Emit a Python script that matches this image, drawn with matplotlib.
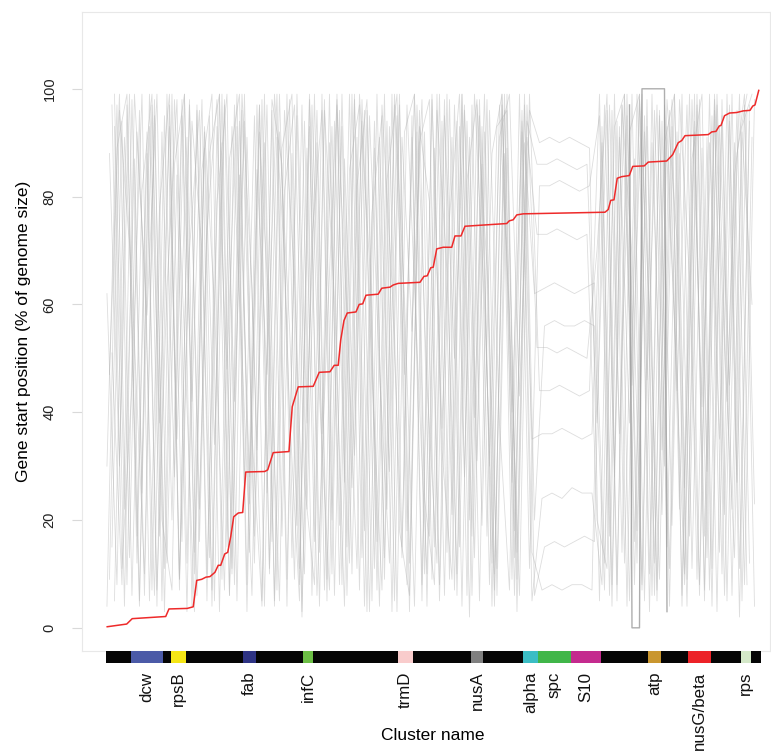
import numpy as np
import matplotlib
matplotlib.use('Agg')
import matplotlib.pyplot as plt

plt.rcParams['font.family'] = ['Liberation Sans', 'DejaVu Sans']

# genes along the reference chromosome
n_genes = 262

# clusters: name, first gene, last gene, colour
cluster_names = ['dcw', 'rpsB', 'fab', 'infC', 'trmD', 'nusA', 'alpha', 'spc', 'S10', 'atp', 'nusG/beta', 'rps']
cluster_start = [11, 27, 56, 80, 118, 147, 168, 174, 187, 218, 234, 255]
cluster_end = [23, 32, 60, 83, 123, 151, 173, 186, 198, 222, 242, 258]
cluster_cols = ['#4b5aa7', '#f5e616', '#2e3384', '#6cbe45', '#f9cccc', '#808080',
                '#3bbdc4', '#40b649', '#c42a8e', '#c9962f', '#ec2227', '#d4e8c8']

# reference genome (red) - gene index vs start position (% genome)
ref_x = [1.1, 8.9, 11.1, 24.5, 25.8, 33.1, 35.5, 36.9, 38.9, 40.6, 42.2, 44.2, 45.5, 46.5,
         48.1, 49.3, 50.5, 51.7, 53.5, 55.3, 56.5, 64.1, 65.3, 67.5, 73.8, 75.1, 77.5, 83.5,
         85.9, 90.2, 91.9, 93.5, 94.5, 95.8, 97.1, 100.6, 101.9, 103.3, 104.6, 109.5, 110.9,
         114.2, 115.5, 117.5, 126.2, 127.8, 129.1, 130.5, 131.5, 132.9, 135.5, 138.9, 140.2,
         142.6, 144.2, 147.5, 160.9, 161.9, 163.5, 164.9, 167.5, 200.2, 201.5, 202.5, 203.8,
         205.1, 206.9, 209.9, 211.3, 215.9, 217.5, 224.9, 227.3, 229.5, 230.9, 232.2, 241.5,
         242.9, 244.6, 245.9, 246.6, 248.0, 250.0, 252.9, 255.5, 258.2, 259.3, 260.2, 261.7]
ref_y = [0.2, 0.7, 1.7, 2.1, 3.5, 3.6, 3.9, 8.8, 9.0, 9.4, 9.5, 10.3, 11.6, 11.6,
         13.7, 14.0, 16.9, 20.6, 21.3, 21.4, 28.9, 29.0, 29.3, 32.5, 32.7, 41.0, 44.7, 44.8,
         47.4, 47.5, 48.7, 48.7, 53.4, 57.0, 58.4, 58.6, 60.0, 60.1, 61.7, 61.9, 63.0,
         63.2, 63.6, 63.9, 64.1, 65.2, 65.3, 66.8, 66.9, 70.3, 70.6, 70.6, 72.7,
         72.7, 74.5, 74.6, 75.0, 75.5, 75.7, 76.6, 76.8, 77.1, 77.6, 79.3, 79.4,
         83.4, 83.7, 83.9, 85.6, 85.7, 86.4, 86.6, 87.8, 90.0, 90.4, 91.3, 91.5,
         92.0, 92.1, 93.1, 93.2, 95.0, 95.5, 95.6, 95.9, 96.0, 96.8, 97.0, 99.7]

# other genomes (grey), sampled every 4th gene from a start gene
other_step = 4
other_start = [1, 3, 2, 4, 3, 1, 4, 2, 2, 4, 1, 3]
other_pos = [
    [62, 8, 97, 12, 88, 4, 99, 35, 91, 6,
     74, 98, 15, 93, 3, 85, 47, 99, 9, 95,
     22, 90, 5, 97, 58, 11, 96, 7, 83, 99,
     18, 92, 4, 96, 66, 10, 94, 31, 98, 6,
     89, 14, 97, 52, 52, 51, 52, 51, 50, 70,
     99, 8, 95, 12, 98, 5, 93, 44, 97, 9,
     91, 3, 99, 27, 96],
    [15, 94, 6, 81, 99, 20, 7, 95, 42, 98,
     4, 90, 11, 99, 63, 5, 96, 17, 88, 2,
     97, 36, 93, 8, 99, 13, 77, 95, 3, 91,
     55, 98, 9, 94, 21, 99, 6, 86, 12, 97,
     40, 92, 5, 24, 25, 24, 26, 25, 25, 8,
     96, 14, 99, 7, 90, 33, 98, 4, 87, 99,
     11, 95, 6, 92, 60],
    [88, 30, 99, 5, 93, 17, 97, 9, 70, 96,
     13, 99, 6, 84, 28, 97, 10, 92, 56, 8,
     98, 4, 90, 19, 99, 7, 95, 48, 12, 97,
     3, 93, 79, 8, 98, 15, 91, 5, 96, 38,
     7, 99, 11, 82, 82, 83, 82, 81, 82, 95,
     6, 91, 38, 99, 10, 96, 4, 88, 17, 98,
     7, 93, 45, 99, 12],
    [5, 91, 53, 10, 98, 3, 86, 99, 14, 93,
     60, 7, 97, 25, 95, 4, 99, 69, 9, 94,
     16, 98, 6, 87, 32, 96, 11, 99, 5, 92,
     99, 24, 8, 95, 50, 97, 13, 92, 4, 99,
     18, 90, 62, 63, 64, 63, 62, 63, 64, 12,
     93, 99, 16, 92, 6, 97, 57, 10, 99, 5,
     96, 21, 90, 8, 98],
    [97, 11, 45, 99, 7, 92, 20, 98, 4, 85,
     99, 9, 93, 51, 6, 98, 16, 89, 99, 3,
     72, 96, 10, 99, 26, 94, 5, 97, 64, 13,
     95, 8, 99, 37, 91, 4, 97, 19, 88, 99,
     9, 94, 35, 36, 36, 37, 36, 35, 36, 90,
     4, 97, 69, 8, 99, 21, 93, 6, 98, 41,
     95, 10, 99, 5, 91],
    [30, 97, 8, 92, 58, 99, 12, 84, 3, 97,
     10, 79, 99, 5, 91, 33, 97, 7, 99, 19,
     89, 6, 55, 98, 15, 91, 3, 99, 22, 95,
     8, 97, 45, 12, 99, 6, 83, 98, 17, 93,
     96, 3, 91, 73, 73, 74, 73, 72, 73, 20,
     11, 94, 4, 99, 46, 97, 15, 92, 9, 99,
     29, 97, 5, 88, 99],
    [93, 4, 99, 66, 6, 95, 28, 99, 10, 89,
     5, 98, 42, 94, 12, 99, 4, 81, 97, 27,
     8, 96, 61, 4, 99, 18, 94, 9, 97, 47,
     99, 10, 89, 6, 97, 28, 99, 60, 7, 96,
     13, 97, 6, 15, 16, 15, 16, 17, 16, 97,
     28, 99, 8, 95, 12, 90, 99, 26, 94, 7,
     99, 52, 13, 97, 4],
    [47, 99, 13, 96, 5, 78, 99, 9, 97, 22,
     95, 3, 87, 99, 14, 92, 57, 5, 98, 11,
     99, 43, 7, 96, 12, 99, 68, 4, 93, 18,
     6, 96, 17, 99, 9, 93, 2, 98, 30, 91,
     99, 43, 96, 90, 91, 90, 91, 90, 89, 5,
     97, 36, 92, 99, 3, 95, 11, 98, 65, 8,
     99, 14, 94, 2, 97],
    [9, 96, 71, 4, 99, 38, 93, 7, 98, 16,
     88, 99, 6, 94, 23, 97, 11, 99, 40, 5,
     93, 14, 99, 8, 85, 97, 3, 91, 29, 99,
     12, 90, 98, 5, 76, 99, 20, 95, 8, 97,
     58, 6, 99, 44, 44, 45, 44, 43, 44, 99,
     17, 93, 5, 98, 59, 9, 96, 22, 99, 6,
     90, 35, 97, 11, 94],
    [99, 22, 87, 6, 95, 11, 98, 54, 3, 92,
     34, 97, 8, 99, 17, 90, 5, 96, 65, 10,
     99, 7, 94, 27, 98, 4, 89, 13, 99, 61,
     4, 92, 15, 98, 7, 96, 39, 99, 10, 88,
     6, 99, 20, 56, 57, 56, 56, 57, 56, 7,
     99, 12, 87, 5, 96, 30, 99, 8, 92, 17,
     98, 6, 84, 99, 23],
    [4, 89, 99, 17, 92, 7, 63, 98, 12, 96,
     5, 93, 48, 99, 8, 97, 25, 91, 4, 99,
     38, 96, 9, 99, 6, 82, 98, 16, 94, 3,
     97, 52, 10, 99, 14, 94, 6, 97, 67, 11,
     99, 9, 94, 86, 86, 87, 86, 85, 86, 38,
     96, 5, 99, 18, 93, 7, 98, 72, 4, 97,
     13, 99, 42, 96, 8],
    [51, 8, 98, 25, 97, 5, 99, 16, 94, 70,
     7, 99, 10, 96, 36, 4, 98, 86, 13, 97,
     6, 99, 20, 93, 10, 98, 47, 7, 99, 15,
     91, 5, 98, 33, 9, 99, 17, 93, 4, 99,
     27, 96, 14, 7, 8, 7, 8, 8, 7, 93,
     8, 97, 45, 99, 6, 94, 19, 99, 11, 89,
     4, 98, 22, 93, 99],
]

# genome with the inverted block around atp
block_x = [210, 211, 214, 215, 224, 225]
block_y = [97, 0, 0, 100, 100, 3]

fig = plt.figure(figsize=(7.71, 7.53), dpi=100)
ax = fig.add_axes([81.7 / 771, 1 - 651 / 753, (770 - 81.7) / 771, (651 - 11.7) / 753])

for s, vals in zip(other_start, other_pos):
    xs = s + other_step * np.arange(len(vals))
    ax.plot(xs, vals, color='#b4b4b4', lw=0.6, alpha=0.45, zorder=1)
ax.plot(block_x, block_y, color='#9a9a9a', lw=1.0, alpha=0.8, zorder=2)
ax.plot(ref_x, ref_y, color='#ee2a2a', lw=1.1, zorder=3)

xlim = (-9.1, 266.2)
ax.set_xlim(*xlim)
ax.set_ylim(-4.3, 114.3)
ax.set_xticks([])
ax.set_yticks([0, 20, 40, 60, 80, 100])
ax.tick_params(axis='y', length=7.2, width=0.8, color='#d9d9d9', labelsize=10.5,
               pad=11, labelcolor='#222222')
for lab in ax.get_yticklabels():
    lab.set_rotation(90)
    lab.set_va('center')
for sp in ax.spines.values():
    sp.set_color('#e8e8e8')
    sp.set_linewidth(0.8)
ax.set_ylabel('Gene start position (% of genome size)', fontsize=12.5, labelpad=8)

# cluster bar below the panel
bax = fig.add_axes([81.7 / 771, 1 - 663 / 753, (770 - 81.7) / 771, 12.3 / 753])
genes = np.arange(1, n_genes + 1)
gene_cols = ['#050505'] * n_genes
for c, a, b in zip(cluster_cols, cluster_start, cluster_end):
    for g in range(a, b + 1):
        gene_cols[g - 1] = c
bax.bar(genes, 1, width=1.0, bottom=0, color=gene_cols, linewidth=0)
bax.set_xlim(*xlim)
bax.set_ylim(0, 1)
bax.axis('off')

for name, a, b in zip(cluster_names, cluster_start, cluster_end):
    bax.text((a + b) / 2, -0.7, name, rotation=90, ha='center', va='top',
             fontsize=12.2, color='#111111')

fig.text((105.7 + 760.7) / 2 / 771, 1 - 735 / 753, 'Cluster name', ha='center', va='center',
         fontsize=12.5)

fig.savefig('out.png', dpi=100)
